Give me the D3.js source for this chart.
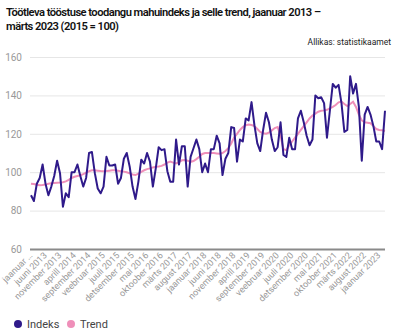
<!DOCTYPE html>
<html><head><meta charset="utf-8">
<script src="https://cdn.jsdelivr.net/npm/d3@7"></script>
<style>
body{margin:0;background:#fff;font-family:Roboto,"Noto Sans",sans-serif;}
svg{display:block}
</style></head><body>
<svg id="c" width="400" height="333"></svg>
<script>
const months = ["jaanuar","veebruar","märts","aprill","mai","juuni","juuli","august","september","oktoober","november","detsember"];
const startYear = 2013;
const indeks = [
88,85,94,97,104,94,88,92.5,98,106,99.5,82,
89,87,100,100,104,98,92.5,97,110,110.5,99.5,91.5,
89,92.5,108,103.5,103.5,104,94,97,107,110,103,92.5,
86,95,106.5,104.5,110,105.5,92.5,102,113,111.5,112,100.5,
95,95,117,104,113.5,113.5,92.5,108,112.5,117,112,100,
104.5,100,112,112,119,115,98.5,107,110,123.5,123,105.5,
117,116,128,127,136.5,124.5,115,111,122,131,126,117,
111,113,126,109,108,118,112,112,128,132,126,119,
114,117,140,138.5,139,136,118,132,146,144,145.5,136,
121,122,150,141,146,134,106,130,134,130,124,116,
116,112,132
];
const trend = [
94,93.8,93.5,93.2,93.3,93.6,94,94.2,94.4,94.5,94.6,94.8,
95.2,96,97,97.6,98,98.4,99,99.8,100.5,101,101,100.8,
100.6,100.5,100.6,100.8,101,101,100.8,100.5,100.3,100,99.4,98.8,
98.5,99.2,100.2,101,101.6,102,102.5,102.8,103,103.3,104,105,
105.5,105,104.6,105.2,106.2,106.4,106,105.4,105.8,106.8,108,109.5,
110,110,110,110,109.8,109.6,110,111,112.5,115,118,120,
122,123.5,124.5,124.8,124.6,124,122.5,121,120.3,120,120.6,121.8,
123,123.5,119,112,111.5,114,116,118,120,122,124,126,
128,129.5,130.5,131.5,132,132.2,132.5,133.2,134,135,136.4,136.8,
135.5,134.5,135.5,136.7,134,130,127,126,125.8,125.5,124,122.5,
122,121.8,121.5
];
const labels = indeks.map((d,i)=> months[i%12]+" "+(startYear+Math.floor(i/12)));
const yTicks = [60,80,100,120,140,160];
const tickEvery = 5;

const svg = d3.select("#c");
const x = d3.scalePoint().domain(d3.range(indeks.length)).range([31,385]);
const y = d3.scaleLinear().domain([60,160]).range([249,57]);

svg.append("text").attr("x",6).attr("y",16).attr("font-size",11.2).attr("font-weight",600).attr("letter-spacing",-0.55).attr("fill","#111")
  .text("Töötleva tööstuse toodangu mahuindeks ja selle trend, jaanuar 2013 –");
svg.append("text").attr("x",6).attr("y",30).attr("font-size",11.2).attr("font-weight",600).attr("letter-spacing",-0.55).attr("fill","#111")
  .text("märts 2023 (2015 = 100)");
svg.append("text").attr("x",391).attr("y",45).attr("text-anchor","end").attr("font-size",8.5).attr("fill","#222")
  .text("Allikas: statistikaamet");

// grid
const yAxis = d3.axisLeft(y).tickValues(yTicks).tickSize(-(385-30)).tickPadding(8);
const gy = svg.append("g").attr("transform","translate(30,0)").call(yAxis);
gy.select(".domain").remove();
gy.selectAll(".tick line").attr("stroke","#e6e6e6").attr("stroke-width",1);
gy.selectAll(".tick text").attr("fill","#999").attr("font-size",10).attr("font-family","Roboto");
gy.selectAll(".tick").filter(d=>d===60).select("line").attr("stroke","#8a8a8a").attr("stroke-width",2);

// x labels
const tickIdx = d3.range(0,indeks.length,tickEvery);
const gx = svg.append("g");
gx.selectAll("text").data(tickIdx).join("text")
  .attr("transform",d=>`translate(${x(d)+2},${256}) rotate(-45)`)
  .attr("text-anchor","end").attr("font-size",9).attr("fill","#999")
  .text(d=> d===0 ? "jaanuar …" : labels[d]);

const line = d3.line().x((d,i)=>x(i)).y(d=>y(d));
svg.append("path").datum(trend).attr("d",line).attr("fill","none").attr("stroke","#ef8fb9").attr("stroke-width",2);
svg.append("path").datum(indeks).attr("d",line).attr("fill","none").attr("stroke","#2f1a8a").attr("stroke-width",2).attr("stroke-linejoin","round");

// legend
const leg = [{n:"Indeks",c:"#2f1a8a",x:18},{n:"Trend",c:"#ef8fb9",x:71}];
const gl = svg.append("g");
leg.forEach(l=>{
  gl.append("circle").attr("cx",l.x).attr("cy",324).attr("r",4).attr("fill",l.c);
  gl.append("text").attr("x",l.x+9).attr("y",328).attr("font-size",11).attr("fill","#444").text(l.n);
});
</script>
</body></html>
